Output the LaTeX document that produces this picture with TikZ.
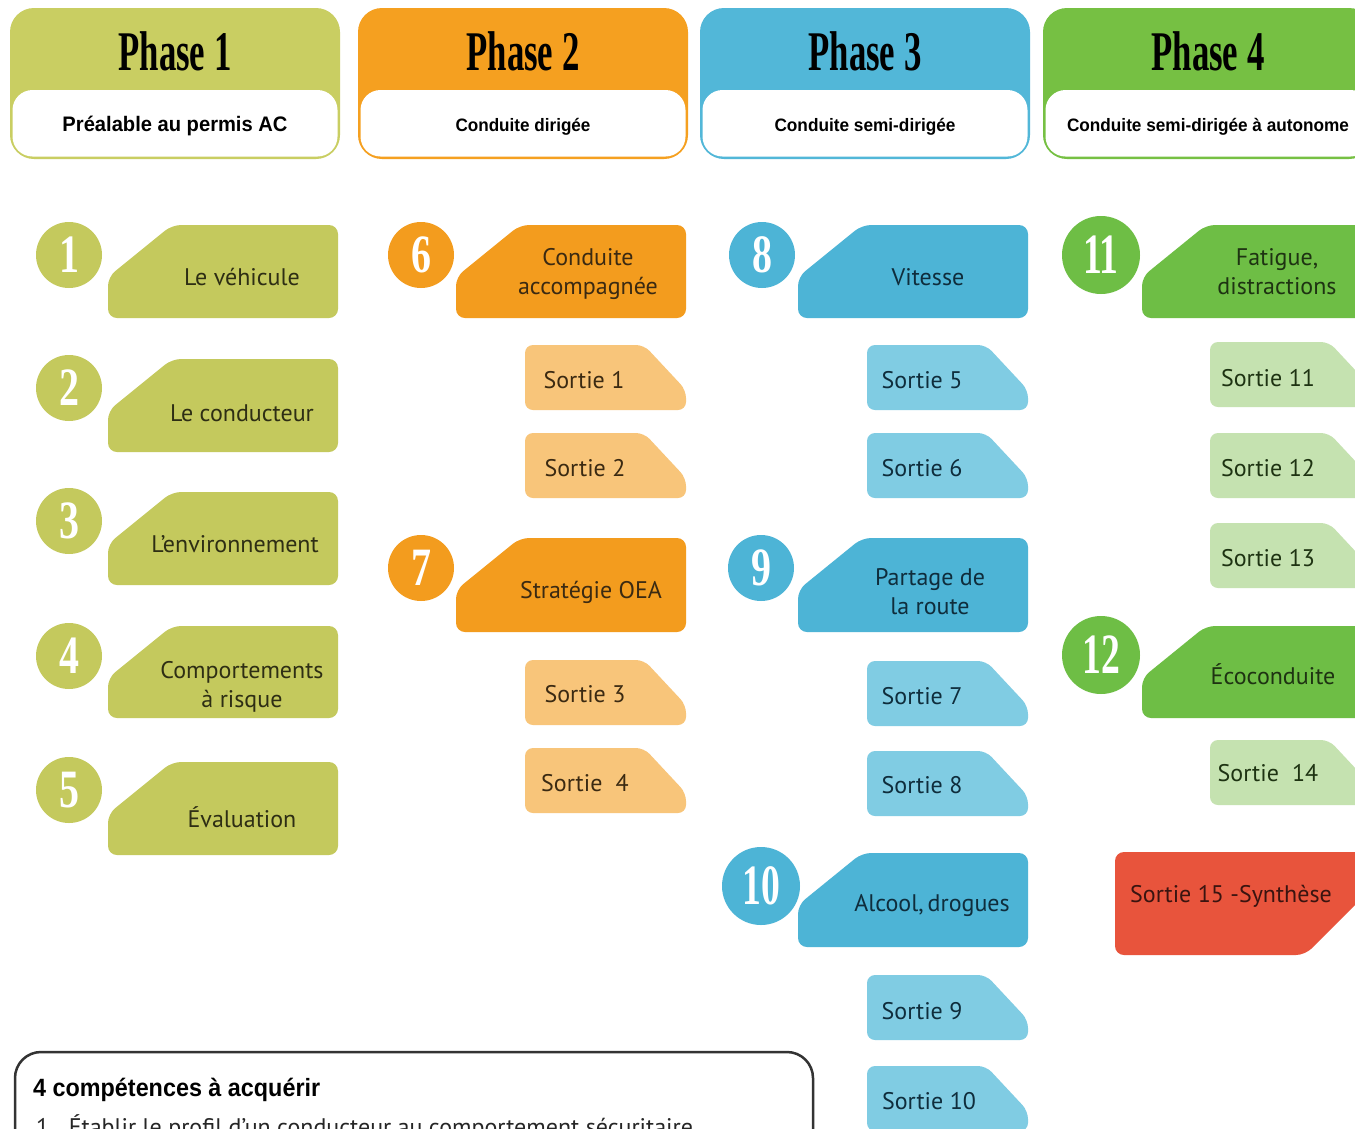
\documentclass[tikz,border=0pt]{standalone}
\usepackage{fontspec}
\usepackage{graphicx}
\setmainfont{PT Sans}
\newfontfamily\numfont{Liberation Serif}
\newfontfamily\condsans{Liberation Sans}

\definecolor{hA}{HTML}{C9CE62}
\definecolor{hB}{HTML}{F5A020}
\definecolor{hC}{HTML}{52B7D8}
\definecolor{hD}{HTML}{76C043}
\definecolor{mA}{HTML}{C4C95D}
\definecolor{mB}{HTML}{F39C1E}
\definecolor{mC}{HTML}{4DB4D6}
\definecolor{mD}{HTML}{6EBE45}
\definecolor{sB}{HTML}{F8C57A}
\definecolor{sC}{HTML}{80CCE3}
\definecolor{sD}{HTML}{C5E2B0}
\definecolor{rE}{HTML}{E8543C}
\definecolor{tA}{HTML}{2E2E14}
\definecolor{tB}{HTML}{3B2A12}
\definecolor{tC}{HTML}{0F2D3C}
\definecolor{tD}{HTML}{1E3312}
\definecolor{tE}{HTML}{3A1410}

\tikzset{
  txt/.style={anchor=base, align=center, inner sep=0pt, font=\fontsize{24}{29}\selectfont},
  numc/.style={circle, inner sep=0pt, minimum size=66pt, text=white},
  bignumc/.style={numc, minimum size=78pt},
}
\newcommand\numtxt[1]{\scalebox{0.74}[1]{\numfont\bfseries\fontsize{54}{54}\selectfont #1}}
\newcommand\bignumtxt[1]{\scalebox{0.66}[1]{\numfont\bfseries\fontsize{57}{57}\selectfont #1}}
% main shape: x0, y0, y1, colour
\newcommand\mshape[4]{\fill[#4, rounded corners=9pt] ({#1+64},#2) -- ({#1+230},#2) -- ({#1+230},#3) -- (#1,#3) -- (#1,{#2+52}) -- cycle;}
% sortie shape: x0, y0, y1, colour
\newcommand\sshape[4]{\fill[#4, rounded corners=8pt] (#1,#2) -- ({#1+119},#2) -- ({#1+161},{#2+45}) -- ({#1+161},#3) -- (#1,#3) -- cycle;}
% header: x0, colour, name, title, subtitle width, subtitle font size, subtitle
\newcommand\phasehead[7]{%
  \fill[#2, rounded corners=24pt] (#1,8) rectangle ({#1+330},159);
  \fill[white, rounded corners=20pt] ({#1+2.5},90) rectangle ({#1+327.5},156.5);
  \node[anchor=base, inner sep=0pt] (#3t) at ({#1+165},70) {\resizebox{113pt}{\height}{\numfont\bfseries\fontsize{56}{56}\selectfont #4}};
  \node[anchor=base, inner sep=0pt] (#3s) at ({#1+165},131) {\resizebox{#5pt}{\height}{\condsans\bfseries\fontsize{#6}{#6}\selectfont #7}};
}

\begin{document}
\begin{tikzpicture}[x=1pt,y=-1pt]
\useasboundingbox (0,0) rectangle (1355,1128);
\fill[white] (0,0) rectangle (1355,1128);
\clip (0,0) rectangle (1355,1128);

% headers
\phasehead{10}{hA}{pA}{Phase 1}{225}{21}{Préalable au permis AC}
\phasehead{358}{hB}{pB}{Phase 2}{135}{18}{Conduite dirigée}
\phasehead{700}{hC}{pC}{Phase 3}{181}{18}{Conduite semi-dirigée}
\phasehead{1043}{hD}{pD}{Phase 4}{282}{18}{Conduite semi-dirigée à autonome}

% column 1
\mshape{108}{225}{318}{mA}
\mshape{108}{359}{452}{mA}
\mshape{108}{492}{585}{mA}
\mshape{108}{626}{718}{mA}
\mshape{108}{762}{855}{mA}
\node[numc, fill=mA] (n1) at (69,255) {\numtxt{1}};
\node[numc, fill=mA] (n2) at (69,388) {\numtxt{2}};
\node[numc, fill=mA] (n3) at (69,521) {\numtxt{3}};
\node[numc, fill=mA] (n4) at (69,656) {\numtxt{4}};
\node[numc, fill=mA] (n5) at (69,790) {\numtxt{5}};
\node[txt, text=tA] (a1) at (242,285) {Le véhicule};
\node[txt, text=tA] (a2) at (242,421) {Le conducteur};
\node[txt, text=tA] (a3) at (235,552) {L'environnement};
\node[txt, text=tA] (a4) at (242,707) {Comportements\\à risque};
\node[txt, text=tA] (a5) at (242,827) {Évaluation};

% column 2
\mshape{456}{225}{318}{mB}
\mshape{456}{538}{632}{mB}
\sshape{525}{345}{410}{sB}
\sshape{525}{433}{498}{sB}
\sshape{525}{660}{725}{sB}
\sshape{525}{748}{813}{sB}
\node[numc, fill=mB] (n6) at (421,255) {\numtxt{6}};
\node[numc, fill=mB] (n7) at (421,568) {\numtxt{7}};
\node[txt, text=tB] (b1) at (588,294) {Conduite\\accompagnée};
\node[txt, text=tB] (b2) at (591,598) {Stratégie OEA};
\node[txt, text=tB] (s1) at (584,388) {Sortie 1};
\node[txt, text=tB] (s2) at (585,476) {Sortie 2};
\node[txt, text=tB] (s3) at (585,702) {Sortie 3};
\node[txt, text=tB] (s4) at (585,791) {Sortie\hspace{0.55em}4};

% column 3
\mshape{798}{225}{318}{mC}
\mshape{798}{538}{632}{mC}
\mshape{798}{853}{947}{mC}
\sshape{867}{345}{410}{sC}
\sshape{867}{433}{498}{sC}
\sshape{867}{661}{726}{sC}
\sshape{867}{751}{816}{sC}
\sshape{867}{975}{1040}{sC}
\sshape{867}{1066}{1131}{sC}
\node[numc, fill=mC] (n8) at (762,255) {\numtxt{8}};
\node[numc, fill=mC] (n9) at (761,568) {\numtxt{9}};
\node[bignumc, fill=mC] (n10) at (761,886) {\bignumtxt{10}};
\node[txt, text=tC] (c1) at (928,285) {Vitesse};
\node[txt, text=tC] (c2) at (930,614) {Partage de\\la route};
\node[txt, text=tC] (c3) at (932,911) {Alcool,\,drogues};
\node[txt, text=tC] (s5) at (922,388) {Sortie 5};
\node[txt, text=tC] (s6) at (922,476) {Sortie 6};
\node[txt, text=tC] (s7) at (922,704) {Sortie 7};
\node[txt, text=tC] (s8) at (922,793) {Sortie 8};
\node[txt, text=tC] (s9) at (922,1019) {Sortie 9};
\node[txt, text=tC] (s10) at (929,1109) {Sortie 10};

% column 4
\mshape{1142}{225}{318}{mD}
\mshape{1142}{626}{718}{mD}
\sshape{1210}{342}{407}{sD}
\sshape{1210}{433}{498}{sD}
\sshape{1210}{523}{588}{sD}
\sshape{1210}{740}{805}{sD}
\node[bignumc, fill=mD] (n11) at (1101,255) {\bignumtxt{11}};
\node[bignumc, fill=mD] (n12) at (1101,655) {\bignumtxt{12}};
\node[txt, text=tD] (d1) at (1277,294) {Fatigue,\\distractions};
\node[txt, text=tD] (d2) at (1273,684) {Écoconduite};
\node[txt, text=tD] (s11) at (1268,386) {Sortie 11};
\node[txt, text=tD] (s12) at (1268,476) {Sortie 12};
\node[txt, text=tD] (s13) at (1268,566) {Sortie 13};
\node[txt, text=tD] (s14) at (1268,781) {Sortie\hspace{0.55em}14};

% sortie 15
\fill[rE, rounded corners=9pt] (1115,852) -- (1380,852) -- (1380,880) -- (1305,955) -- (1115,955) -- cycle;
\node[txt, text=tE] (s15) at (1231,902) {Sortie 15 -Synthèse};

% competences box
\draw[line width=2.5pt, draw=black!80, fill=white, rounded corners=26pt] (15,1052) rectangle (813,1220);
\node[anchor=base west, inner sep=0pt] (ct) at (33,1096) {\resizebox{287pt}{\height}{\condsans\bfseries\fontsize{25}{25}\selectfont 4 compétences à acquérir}};
\node[anchor=base west, inner sep=0pt, font=\fontsize{24}{24}\selectfont, text=black!85] (cl) at (36,1135) {1.\hspace{0.6em}Établir le profil d'un conducteur au comportement sécuritaire.};
\end{tikzpicture}
\end{document}
